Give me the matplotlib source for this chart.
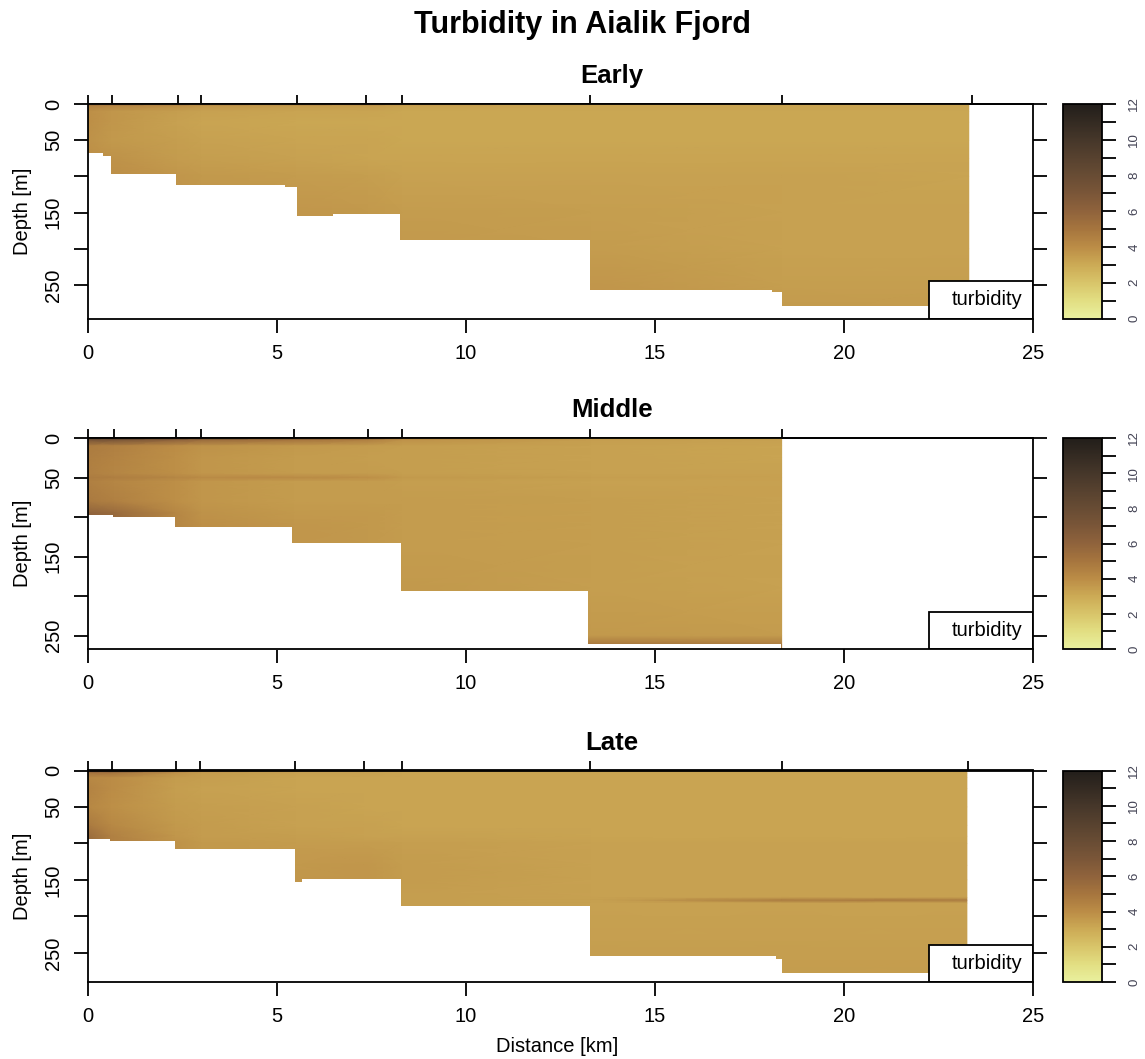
import numpy as np
import matplotlib
matplotlib.use("Agg")
import matplotlib.pyplot as plt
from matplotlib.colors import LinearSegmentedColormap
from matplotlib.patches import Rectangle

plt.rcParams['font.family'] = ['Liberation Sans', 'DejaVu Sans']

# ---------------- data ----------------
main_title = "Turbidity in Aialik Fjord"
panel_names = ["Early", "Middle", "Late"]
x_label = "Distance [km]"
y_label = "Depth [m]"
cbar_ticks = [0, 2, 4, 6, 8, 10, 12]
x_ticks = [0, 5, 10, 15, 20, 25]
y_ticks = [0, 50, 100, 150, 200, 250]
y_ticklabels = ["0", "50", "", "150", "", "250"]
legend_label = "turbidity"

# station positions (top ticks), km
early_stations = [0, 0.63, 2.37, 3.0, 5.53, 7.36, 8.3, 13.27, 18.35, 23.38]
middle_stations = [0, 0.69, 2.32, 3.0, 5.44, 7.4, 8.3, 13.27, 18.35]
late_stations = [0, 0.63, 2.33, 2.96, 5.48, 7.3, 8.3, 13.27, 18.35, 23.27]

# y-axis extent (max depth shown)
early_ymax = 296
middle_ymax = 267
late_ymax = 290

# bottom profile: edges (km) and depth (m) of each segment
early_bottom_x = [0, 0.39, 0.6, 2.33, 5.2, 5.53, 6.47, 8.25, 13.27, 18.1, 18.35, 23.3]
early_bottom_d = [68, 72, 96, 112, 114, 155, 152, 188, 257, 260, 279]
middle_bottom_x = [0, 0.67, 2.29, 5.41, 8.27, 13.22, 18.33]
middle_bottom_d = [97, 100, 112.5, 133, 193, 261]
late_bottom_x = [0, 0.58, 2.3, 5.48, 5.65, 8.27, 13.27, 18.2, 18.35, 23.23]
late_bottom_d = [94.5, 97, 108, 152.5, 149, 185.5, 255, 258, 278]

# turbidity grids (rows: depth nodes, cols: distance nodes)
early_x = [0, 0.6, 2.35, 3.0, 5.5, 7.4, 8.3, 13.3, 18.35, 23.3]
early_z = [0, 3, 10, 25, 50, 75, 100, 150, 200, 250, 296]
early_turb = [
    [6.0, 6.0, 5.6, 5.3, 5.2, 5.0, 4.0, 3.3, 3.3, 3.3],
    [4.5, 4.3, 3.9, 3.7, 3.5, 3.5, 3.3, 3.2, 3.2, 3.2],
    [3.9, 3.7, 3.4, 3.3, 3.2, 3.2, 3.1, 3.1, 3.1, 3.1],
    [3.9, 3.7, 3.3, 3.2, 3.1, 3.1, 3.1, 3.1, 3.1, 3.1],
    [3.8, 3.6, 3.4, 3.3, 3.2, 3.2, 3.1, 3.1, 3.1, 3.1],
    [3.9, 3.8, 3.5, 3.4, 3.3, 3.2, 3.2, 3.2, 3.2, 3.2],
    [3.9, 3.9, 3.7, 3.6, 3.5, 3.4, 3.3, 3.3, 3.3, 3.2],
    [3.9, 3.9, 3.8, 3.7, 3.7, 3.6, 3.5, 3.4, 3.3, 3.3],
    [3.9, 3.9, 3.8, 3.7, 3.7, 3.6, 3.6, 3.5, 3.3, 3.3],
    [3.9, 3.9, 3.8, 3.7, 3.7, 3.6, 3.6, 3.7, 3.4, 3.4],
    [3.9, 3.9, 3.8, 3.7, 3.7, 3.6, 3.6, 3.8, 3.6, 3.5],
]

middle_x = [0, 0.7, 2.3, 3.0, 5.45, 7.4, 8.3, 13.3, 18.35]
middle_z = [0, 3, 10, 25, 45, 50, 55, 80, 95, 110, 135, 190, 250, 262, 267]
middle_turb = [
    [9.0, 9.5, 9.0, 8.5, 8.0, 6.5, 4.5, 3.5, 3.4],
    [7.0, 7.0, 6.0, 5.5, 5.0, 4.5, 3.8, 3.4, 3.3],
    [4.7, 4.5, 4.0, 3.8, 3.6, 3.5, 3.4, 3.3, 3.2],
    [4.6, 4.4, 3.9, 3.7, 3.5, 3.4, 3.4, 3.3, 3.2],
    [4.5, 4.3, 3.9, 3.7, 3.5, 3.5, 3.4, 3.3, 3.3],
    [4.7, 4.6, 4.3, 4.1, 4.1, 3.9, 3.6, 3.4, 3.3],
    [4.5, 4.3, 3.9, 3.7, 3.5, 3.5, 3.4, 3.3, 3.3],
    [4.8, 4.5, 3.9, 3.7, 3.5, 3.5, 3.5, 3.4, 3.3],
    [6.0, 5.6, 4.3, 3.8, 3.6, 3.6, 3.5, 3.4, 3.3],
    [6.0, 5.6, 4.3, 3.9, 3.7, 3.6, 3.5, 3.4, 3.3],
    [6.0, 5.6, 4.3, 3.9, 3.7, 3.6, 3.5, 3.4, 3.3],
    [6.0, 5.6, 4.3, 3.9, 3.7, 3.6, 3.6, 3.4, 3.3],
    [6.0, 5.6, 4.3, 3.9, 3.7, 3.6, 3.6, 3.6, 3.5],
    [6.0, 5.6, 4.3, 3.9, 3.7, 3.6, 3.6, 5.0, 4.8],
    [6.0, 5.6, 4.3, 3.9, 3.7, 3.6, 3.6, 5.0, 4.8],
]

late_x = [0, 0.6, 2.3, 3.0, 5.5, 7.3, 8.3, 13.3, 18.35, 23.25]
late_z = [0, 4, 10, 25, 50, 75, 90, 100, 130, 150, 174, 178, 182, 250, 290]
late_turb = [
    [6.5, 7.0, 4.5, 3.8, 3.5, 3.4, 3.3, 3.3, 3.3, 3.3],
    [5.0, 5.0, 3.8, 3.5, 3.3, 3.3, 3.2, 3.2, 3.2, 3.2],
    [4.2, 4.0, 3.5, 3.4, 3.2, 3.2, 3.2, 3.2, 3.2, 3.2],
    [4.4, 4.0, 3.4, 3.3, 3.2, 3.2, 3.2, 3.2, 3.2, 3.2],
    [4.2, 3.9, 3.5, 3.4, 3.3, 3.2, 3.2, 3.2, 3.2, 3.2],
    [4.8, 4.2, 3.6, 3.5, 3.3, 3.3, 3.2, 3.2, 3.2, 3.2],
    [5.5, 4.5, 3.7, 3.5, 3.4, 3.3, 3.3, 3.2, 3.2, 3.2],
    [5.5, 4.5, 3.8, 3.6, 3.5, 3.5, 3.4, 3.3, 3.3, 3.3],
    [5.5, 4.5, 3.8, 3.6, 3.6, 3.7, 3.5, 3.3, 3.3, 3.3],
    [5.5, 4.5, 3.8, 3.6, 3.7, 3.7, 3.5, 3.3, 3.3, 3.3],
    [5.5, 4.5, 3.8, 3.6, 3.7, 3.7, 3.4, 3.3, 3.3, 3.3],
    [5.5, 4.5, 3.8, 3.6, 3.7, 3.7, 3.4, 3.3, 4.8, 4.8],
    [5.5, 4.5, 3.8, 3.6, 3.7, 3.7, 3.4, 3.3, 3.3, 3.3],
    [5.5, 4.5, 3.8, 3.6, 3.7, 3.7, 3.5, 3.4, 3.4, 3.4],
    [5.5, 4.5, 3.8, 3.6, 3.7, 3.7, 3.6, 3.5, 3.5, 3.5],
]

# colormap anchors (turbid-like)
cmap_values = [0, 1, 2, 3, 4, 5, 6, 7, 8, 10, 12]
cmap_colors = ["#e9f09e", "#e2de82", "#d8c469", "#ccaa55", "#bb8c46",
               "#a6753e", "#8f633c", "#7a5638", "#684c34", "#46372a", "#221e1a"]

# ---------------- plotting ----------------
cmap = LinearSegmentedColormap.from_list(
    "turbid", list(zip([v / 12 for v in cmap_values], cmap_colors)))

W, H = 1145, 1059
fig = plt.figure(figsize=(W / 100, H / 100), dpi=100)

FS = 14.5
LW = 1.3

panels = [
    dict(name=panel_names[0], stations=early_stations, ymax=early_ymax,
         bx=early_bottom_x, bd=early_bottom_d, gx=early_x, gz=early_z, gv=early_turb,
         top=104, bottom=318.5),
    dict(name=panel_names[1], stations=middle_stations, ymax=middle_ymax,
         bx=middle_bottom_x, bd=middle_bottom_d, gx=middle_x, gz=middle_z, gv=middle_turb,
         top=438, bottom=649),
    dict(name=panel_names[2], stations=late_stations, ymax=late_ymax,
         bx=late_bottom_x, bd=late_bottom_d, gx=late_x, gz=late_z, gv=late_turb,
         top=770.5, bottom=982),
]

ax_left = 88 / W
ax_width = (1033 - 88) / W

for i, p in enumerate(panels):
    b = 1 - p["bottom"] / H
    h = (p["bottom"] - p["top"]) / H
    ax = fig.add_axes([ax_left, b, ax_width, h])
    X, Z = np.meshgrid(np.array(p["gx"]), np.array(p["gz"]))
    C = np.array(p["gv"])
    mesh = ax.pcolormesh(X, Z, C, shading="gouraud", cmap=cmap, vmin=0, vmax=12,
                         zorder=1, rasterized=True)
    bd = list(p["bd"]) + [p["bd"][-1]]
    ax.fill_between(p["bx"], bd, p["ymax"] + 5, step="post", color="white",
                    lw=0, zorder=2)
    ax.set_xlim(0, 25)
    ax.set_ylim(p["ymax"], 0)
    ax.set_xticks(x_ticks)
    ax.set_xticklabels([str(t) for t in x_ticks], fontsize=FS)
    ax.set_yticks(y_ticks)
    ax.set_yticklabels(y_ticklabels, fontsize=FS, rotation=90, va="center")
    ax.tick_params(axis="both", direction="out", length=10, width=LW, pad=8,
                   right=True, top=False, labelright=False)
    for s in ax.spines.values():
        s.set_linewidth(LW)
        s.set_zorder(5)

    sec = ax.secondary_xaxis("top")
    sec.set_xticks(p["stations"])
    sec.set_xticklabels([])
    sec.tick_params(direction="out", length=6.5, width=LW)
    sec.spines["top"].set_linewidth(LW)

    # legend box
    ax.add_patch(Rectangle((0.89, 0.0), 0.11, 0.175, transform=ax.transAxes,
                           facecolor="white", edgecolor="black", lw=LW, zorder=4))
    ax.text(0.9894, 0.0875, legend_label, transform=ax.transAxes, ha="right",
            va="center", fontsize=FS, zorder=6)

    # panel title
    fig.text(612 / W, 1 - (p["top"] - 21) / H, p["name"], ha="center",
             va="baseline", fontsize=18.5, fontweight="bold")

    # colorbar
    cax = fig.add_axes([1063 / W, b, (1102 - 1063) / W, h])
    cb = fig.colorbar(mesh, cax=cax, ticks=cbar_ticks)
    cb.ax.set_yticks(range(0, 13), minor=True)
    cb.ax.tick_params(which="both", length=10, width=LW, direction="out", pad=9)
    cb.ax.set_yticklabels([str(t) for t in cbar_ticks], rotation=90, va="center",
                          fontsize=9.5, color="#444455")
    cb.outline.set_linewidth(LW)

    # y label
    fig.text(23 / W, 1 - (p["top"] + p["bottom"]) / 2 / H, y_label, rotation=90,
             ha="center", va="center", fontsize=FS)

fig.text(582.5 / W, 1 - 33 / H, main_title, ha="center", va="baseline",
         fontsize=22, fontweight="bold")
fig.text(557 / W, 1 - 1046 / H, x_label, ha="center", va="center", fontsize=FS)

fig.savefig("out.png", dpi=100)
